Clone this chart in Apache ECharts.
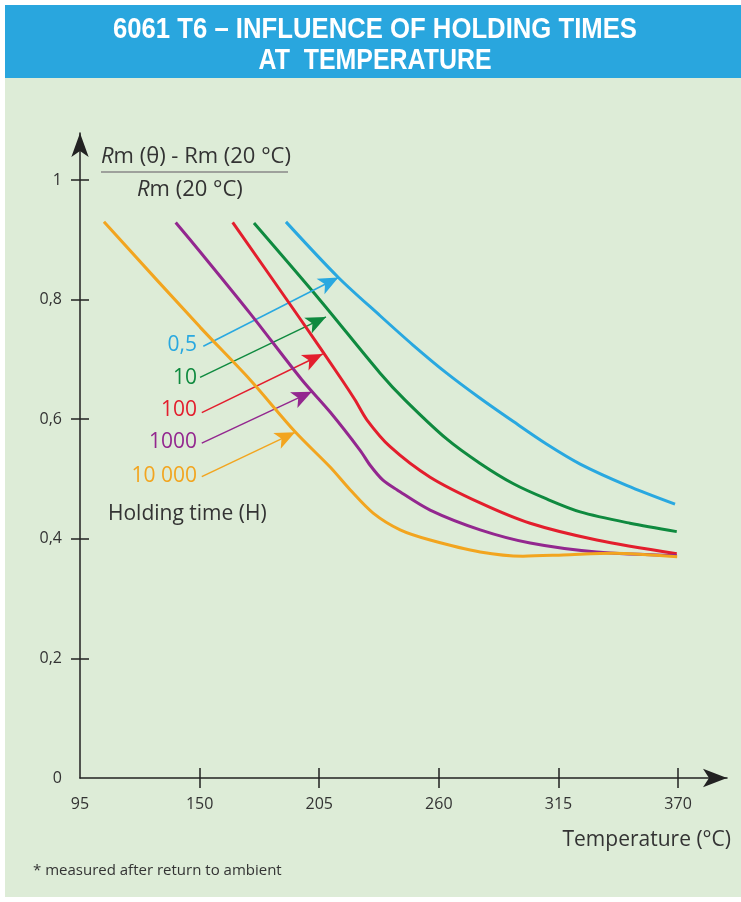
<!DOCTYPE html>
<html>
<head>
<meta charset="utf-8">
<script src="https://cdn.jsdelivr.net/npm/echarts@6/dist/echarts.min.js"></script>
<style>
  html, body { margin: 0; padding: 0; background: #fff; }
  #chart { width: 741px; height: 902px; }
</style>
</head>
<body>
<div id="chart"></div>
<script>
// tick values
const xTicks = [95, 150, 205, 260, 315, 370];
const yTicks = [0, 0.2, 0.4, 0.6, 0.8, 1];

// holding times (H)
const holdingLabels = ['0,5', '10', '100', '1000', '10 000'];

// curves: temperature (°C) and relative Rm
const t05 = [189.7, 213.8, 233.0, 248.1, 263.6, 279.0, 294.3, 309.3, 325.0, 346.6, 368.6];
const r05 = [0.930, 0.837, 0.773, 0.724, 0.677, 0.635, 0.596, 0.559, 0.525, 0.489, 0.458];

const t10 = [175.0, 205.4, 233.0, 244.5, 263.6, 279.0, 294.3, 309.3, 325.0, 347.9, 369.4];
const r10 = [0.928, 0.799, 0.677, 0.632, 0.567, 0.526, 0.492, 0.467, 0.445, 0.426, 0.412];

const t100 = [165.2, 196.2, 215.4, 221.5, 226.9, 237.6, 256.0, 279.0, 302.0, 332.6, 369.4];
const r100 = [0.929, 0.768, 0.666, 0.632, 0.599, 0.554, 0.503, 0.460, 0.426, 0.398, 0.375];

const t1000 = [139.0, 150.2, 173.2, 197.0, 210.0, 223.8, 228.4, 234.3, 240.7, 256.0, 279.0, 302.0, 332.6, 369.4];
const r1000 = [0.929, 0.880, 0.777, 0.666, 0.612, 0.548, 0.523, 0.498, 0.482, 0.448, 0.415, 0.393, 0.378, 0.372];

const t10000 = [106.0, 150.2, 173.2, 193.9, 210.0, 219.2, 229.8, 242.2, 256.0, 279.0, 298.7, 317.1, 340.1, 369.6];
const r10000 = [0.930, 0.754, 0.666, 0.579, 0.520, 0.482, 0.443, 0.415, 0.398, 0.378, 0.371, 0.373, 0.376, 0.370];

// arrows: [fromT, fromR, toT, toR]
const arrow05 = [151.7, 0.722, 213.8, 0.837];
const arrow10 = [150.2, 0.670, 208.1, 0.771];
const arrow100 = [151.0, 0.611, 206.6, 0.709];
const arrow1000 = [151.0, 0.560, 201.6, 0.646];
const arrow10000 = [151.0, 0.504, 193.9, 0.578];

const colors = ['#29a8e0', '#0f8a3f', '#e31e2d', '#93278f', '#f2a51f'];
const FONT = '"Open Sans", Arial, sans-serif';
const TXT = '#333';
const TITLE_FONT = 'bold 29px "Liberation Sans", Arial, sans-serif';

const zip = (a, b) => a.map((v, i) => [v, b[i]]);
const curves = [zip(t05, r05), zip(t10, r10), zip(t100, r100), zip(t1000, r1000), zip(t10000, r10000)];
const arrows = [arrow05, arrow10, arrow100, arrow1000, arrow10000];

const labelY = [345, 378, 410, 442, 476];

// squeeze the title to the condensed width of the original
const ctx = document.createElement('canvas').getContext('2d');
ctx.font = TITLE_FONT;
const fitScale = (s, w) => w / ctx.measureText(s).width;
const title1 = '6061 T6 \u2013 INFLUENCE OF HOLDING TIMES';
const title2 = 'AT  TEMPERATURE';

const myChart = echarts.init(document.getElementById('chart'));

const axisLineStyle = { color: '#222', width: 1.5 };

let option = {
  animation: false,
  backgroundColor: '#fff',
  grid: { left: 80, right: 14, top: 133, bottom: 124 },
  xAxis: [
    {
      type: 'value', min: 95, max: 392.5,
      axisLine: { show: true, lineStyle: axisLineStyle, symbol: ['none', 'arrow'], symbolSize: [14, 24], symbolOffset: [0, 0] },
      axisTick: { show: true, inside: false, length: 10, lineStyle: axisLineStyle, customValues: xTicks.slice(1) },
      axisLabel: { customValues: xTicks, color: TXT, fontFamily: FONT, fontSize: 16, margin: 18 },
      splitLine: { show: false }
    },
    {
      type: 'value', min: 95, max: 392.5, position: 'bottom',
      axisLine: { show: false },
      axisTick: { show: true, inside: true, length: 10, lineStyle: axisLineStyle, customValues: xTicks.slice(1) },
      axisLabel: { show: false },
      splitLine: { show: false }
    }
  ],
  yAxis: [
    {
      type: 'value', min: 0, max: 1.0786,
      axisLine: { show: true, lineStyle: axisLineStyle, symbol: ['none', 'arrow'], symbolSize: [13, 24], symbolOffset: [0, 0] },
      axisTick: { show: true, inside: false, length: 9, lineStyle: axisLineStyle, customValues: yTicks.slice(1) },
      axisLabel: {
        customValues: yTicks, color: TXT, fontFamily: FONT, fontSize: 16, margin: 18,
        formatter: v => String(v).replace('.', ',')
      },
      splitLine: { show: false }
    },
    {
      type: 'value', min: 0, max: 1.0786, position: 'left',
      axisLine: { show: false },
      axisTick: { show: true, inside: true, length: 9, lineStyle: axisLineStyle, customValues: yTicks.slice(1) },
      axisLabel: { show: false },
      splitLine: { show: false }
    }
  ],
  graphic: [
    { type: 'rect', z: -10, silent: true, shape: { x: 5, y: 5, width: 736, height: 892 }, style: { fill: '#ddecd7' } },
    { type: 'rect', z: -9, silent: true, shape: { x: 5, y: 5, width: 736, height: 73 }, style: { fill: '#29a6de' } },
    {
      type: 'text', x: 375, y: 30, scaleX: fitScale(title1, 524), style: {
        text: title1, fill: '#fff', align: 'center', verticalAlign: 'middle', font: TITLE_FONT
      }
    },
    {
      type: 'text', x: 375, y: 61, scaleX: fitScale(title2, 233), style: {
        text: title2, fill: '#fff', align: 'center', verticalAlign: 'middle', font: TITLE_FONT
      }
    },
    {
      type: 'text', x: 101, y: 157, style: {
        text: '{i|R}m (θ) - Rm (20 °C)', fill: TXT, verticalAlign: 'middle',
        fontFamily: FONT, fontSize: 22,
        rich: { i: { fontStyle: 'italic', fontFamily: FONT, fontSize: 22, fill: TXT } }
      }
    },
    { type: 'line', shape: { x1: 101, y1: 172, x2: 288, y2: 172 }, style: { stroke: '#888', lineWidth: 1.5 } },
    {
      type: 'text', x: 137, y: 190, style: {
        text: '{i|R}m (20 °C)', fill: TXT, verticalAlign: 'middle',
        fontFamily: FONT, fontSize: 22,
        rich: { i: { fontStyle: 'italic', fontFamily: FONT, fontSize: 22, fill: TXT } }
      }
    },
    {
      type: 'text', x: 108, y: 514, style: {
        text: 'Holding time (H)', fill: TXT, verticalAlign: 'middle', fontFamily: FONT, fontSize: 21
      }
    },
    {
      type: 'text', x: 731, y: 840, style: {
        text: 'Temperature (°C)', fill: TXT, align: 'right', verticalAlign: 'middle', fontFamily: FONT, fontSize: 21
      }
    },
    {
      type: 'text', x: 33, y: 871, style: {
        text: '* measured after return to ambient', fill: TXT, verticalAlign: 'middle', fontFamily: FONT, fontSize: 15
      }
    }
  ].concat(holdingLabels.map((s, i) => ({
    type: 'text', x: 197, y: labelY[i], style: {
      text: s, fill: colors[i], align: 'right', verticalAlign: 'middle', fontFamily: FONT, fontSize: 21
    }
  }))),
  series: curves.map((d, i) => ({
    type: 'line',
    name: holdingLabels[i],
    data: d,
    smooth: 0.3,
    showSymbol: false,
    lineStyle: { color: colors[i], width: 3 },
    z: 3 + i,
    markLine: {
      silent: true,
      symbol: ['none', 'arrow'],
      symbolSize: [13, 20],
      label: { show: false },
      lineStyle: { color: colors[i], width: 1.5, type: 'solid' },
      data: [[
        { coord: [arrows[i][0], arrows[i][1]] },
        { coord: [arrows[i][2], arrows[i][3]] }
      ]]
    }
  }))
};

myChart.setOption(option);
</script>
</body>
</html>
